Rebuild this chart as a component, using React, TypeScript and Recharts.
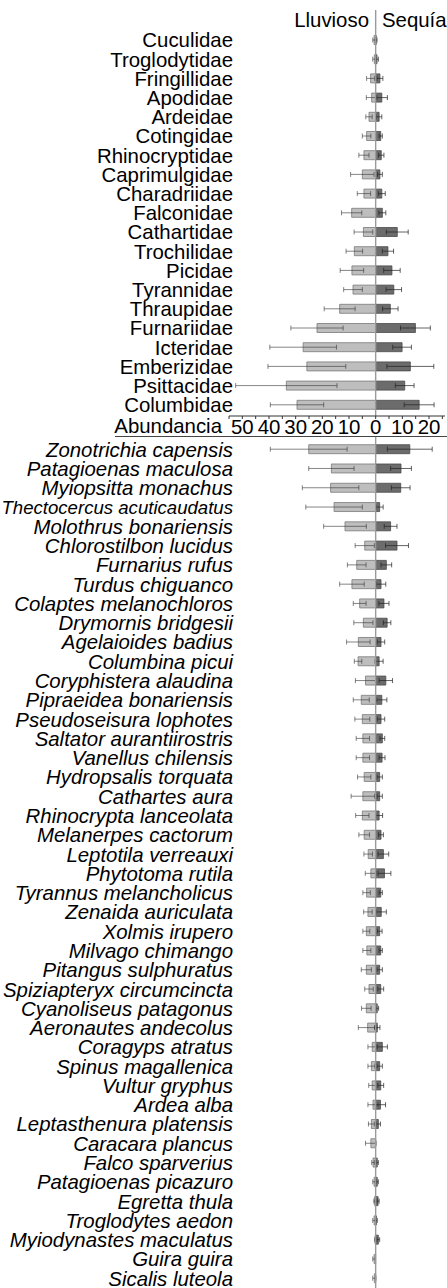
import React from 'react';
import { BarChart, Bar, XAxis, YAxis, ErrorBar, ReferenceLine } from 'recharts';

const families = [
  'Cuculidae', 'Troglodytidae', 'Fringillidae', 'Apodidae', 'Ardeidae', 'Cotingidae',
  'Rhinocryptidae', 'Caprimulgidae', 'Charadriidae', 'Falconidae', 'Cathartidae',
  'Trochilidae', 'Picidae', 'Tyrannidae', 'Thraupidae', 'Furnariidae', 'Icteridae',
  'Emberizidae', 'Psittacidae', 'Columbidae',
];
const famLluvioso = [0.6, 0.5, 1.9, 1.5, 2.5, 3.4, 4.4, 5.0, 4.4, 9.0, 4.6, 8.0, 8.9, 8.5, 13.5, 22.0, 27.2, 25.8, 33.5, 29.5];
const famLluviosoErr = [0.5, 0.6, 1.5, 2.0, 1.2, 1.6, 1.9, 4.4, 2.5, 3.8, 3.5, 3.1, 4.4, 3.5, 5.8, 9.8, 12.5, 14.6, 19.0, 10.0];
const famSequia = [0.2, 0.5, 1.6, 2.3, 1.3, 1.9, 2.1, 1.6, 2.3, 2.5, 8.1, 4.6, 6.1, 6.8, 5.5, 14.9, 9.9, 13.0, 10.9, 16.3];
const famSequiaErr = [0.3, 0.5, 1.1, 2.1, 1.0, 0.6, 1.0, 0.9, 1.3, 1.3, 4.1, 2.1, 3.1, 2.9, 2.9, 5.6, 3.5, 8.8, 3.5, 5.6];

const species = [
  'Zonotrichia capensis', 'Patagioenas maculosa', 'Myiopsitta monachus', 'Thectocercus acuticaudatus',
  'Molothrus bonariensis', 'Chlorostilbon lucidus', 'Furnarius rufus', 'Turdus chiguanco',
  'Colaptes melanochloros', 'Drymornis bridgesii', 'Agelaioides badius', 'Columbina picui',
  'Coryphistera alaudina', 'Pipraeidea bonariensis', 'Pseudoseisura lophotes', 'Saltator aurantiirostris',
  'Vanellus chilensis', 'Hydropsalis torquata', 'Cathartes aura', 'Rhinocrypta lanceolata',
  'Melanerpes cactorum', 'Leptotila verreauxi', 'Phytotoma rutila', 'Tyrannus melancholicus',
  'Zenaida auriculata', 'Xolmis irupero', 'Milvago chimango', 'Pitangus sulphuratus',
  'Spiziapteryx circumcincta', 'Cyanoliseus patagonus', 'Aeronautes andecolus', 'Coragyps atratus',
  'Spinus magallenica', 'Vultur gryphus', 'Ardea alba', 'Leptasthenura platensis',
  'Caracara plancus', 'Falco sparverius', 'Patagioenas picazuro', 'Egretta thula',
  'Troglodytes aedon', 'Myiodynastes maculatus', 'Guira guira', 'Sicalis luteola',
];
const spLluvioso = [25.1, 16.6, 16.9, 15.6, 11.5, 4.1, 7.1, 8.9, 6.0, 4.6, 6.5, 6.6, 3.8, 5.4, 5.0, 4.8, 4.8, 4.3, 4.8, 5.0, 4.3, 2.8, 1.8, 3.4, 2.9, 3.5, 3.3, 3.5, 2.5, 3.5, 3.0, 1.3, 1.6, 1.3, 1.0, 1.6, 1.8, 1.0, 0.6, 0.4, 0.6, 0.2, 0.6, 0.5];
const spLluviosoErr = [14.4, 8.5, 10.6, 10.6, 8.0, 3.6, 3.5, 4.6, 2.4, 3.6, 4.4, 1.4, 3.8, 3.0, 2.8, 2.5, 2.5, 2.5, 4.4, 2.5, 2.0, 1.6, 2.1, 1.4, 1.6, 1.3, 1.5, 1.9, 1.6, 1.8, 3.5, 1.6, 1.3, 1.3, 1.9, 1.1, 2.0, 0.5, 0.5, 0.3, 0.5, 0.2, 0.5, 0.6];
const spSequia = [12.8, 9.5, 9.4, 1.5, 5.6, 8.0, 4.0, 2.0, 3.1, 4.3, 2.0, 1.3, 3.8, 2.3, 2.0, 2.5, 2.4, 1.5, 1.5, 1.3, 2.0, 2.9, 3.3, 1.9, 2.1, 1.5, 1.9, 1.5, 1.9, 0.6, 0.6, 2.5, 1.5, 1.9, 1.8, 1.0, 0, 0.6, 0.6, 0.9, 0.3, 1.0, 0, 0];
const spSequiaErr = [8.4, 3.9, 3.5, 1.3, 2.4, 4.3, 2.0, 1.8, 1.9, 1.4, 1.4, 1.5, 2.5, 1.9, 1.4, 0.9, 1.1, 1.0, 1.0, 1.3, 0.9, 2.0, 2.4, 0.6, 1.9, 0.9, 0.6, 1.0, 1.1, 0.5, 1.0, 1.9, 1.0, 1.1, 1.9, 0.8, 0, 0.4, 0.4, 0.4, 0.3, 0.5, 0, 0];

const xDomain = [-55, 26];
const xTicks = [-55, -50, -45, -40, -35, -30, -25, -20, -15, -10, -5, 0, 5, 10, 15, 20, 25];
const seasonLabels = ['Lluvioso', 'Sequía'];
const axisTitle = 'Abundancia';

const FONT = '"Liberation Sans", Arial, Helvetica, sans-serif';
const L_FILL = '#bebebe';
const L_STROKE = '#7a7a7a';
const S_FILL = '#6c6c6c';
const S_STROKE = '#4a4a4a';

const buildRows = (names: string[], l: number[], le: number[], s: number[], se: number[]) =>
  names.map((name, i) => ({ name, lluvioso: -l[i], lluviosoErr: le[i], sequia: s[i], sequiaErr: se[i] }));

const famRows = buildRows(families, famLluvioso, famLluviosoErr, famSequia, famSequiaErr);
const spRows = buildRows(species, spLluvioso, spLluviosoErr, spSequia, spSequiaErr);

const YTick = (props: any) => {
  const { x, y, payload, italic } = props;
  const label = String(payload.value);
  const fs = label.length > 25 ? 18.6 : 20.4;
  return (
    <text x={x + 4} y={y} dy="0.36em" textAnchor="end" fontSize={fs} fontFamily={FONT}
      fontStyle={italic ? 'italic' : 'normal'} fill="#000">
      {label}
    </text>
  );
};

const XTick = (props: any) => {
  const { x, y, payload } = props;
  if (payload.value % 10 !== 0) return <g />;
  return (
    <text x={x} y={y} dy="0.71em" textAnchor="middle" fontSize={20.4} fontFamily={FONT} fill="#000">
      {Math.abs(payload.value)}
    </text>
  );
};

const Series = () => null;

function Panel({ rows, italic, height, top, showAxis, padTop, padBottom, marginTop, marginBottom }: any) {
  return (
    <div style={{ position: 'absolute', left: 0, top }}>
      <BarChart width={447} height={height} data={rows} layout="vertical"
        margin={{ top: marginTop, right: 2, bottom: marginBottom, left: 0 }}>
        <XAxis type="number" domain={xDomain} ticks={xTicks} allowDataOverflow
          hide={!showAxis} height={20} tickSize={3} tickMargin={1}
          stroke="#333" tick={<XTick />} interval={0}
          label={showAxis ? { value: axisTitle, position: 'left', offset: 7, fontSize: 20.4, fill: '#000', fontFamily: FONT } : undefined}
        />
        <YAxis yAxisId="a" type="category" dataKey="name" width={229} axisLine={false} tickLine={false}
          tickSize={0} tickMargin={0} interval={0} padding={{ top: padTop, bottom: padBottom }}
          tick={(p: any) => <YTick {...p} italic={italic} />} />
        <YAxis yAxisId="b" type="category" dataKey="name" width={229} hide
          padding={{ top: padTop, bottom: padBottom }} />
        <Bar yAxisId="a" dataKey="lluvioso" fill={L_FILL} stroke={L_STROKE} strokeWidth={0.8}
          barSize={9} isAnimationActive={false}>
          <ErrorBar dataKey="lluviosoErr" direction="x" width={2.5} stroke="#333" strokeOpacity={0.6} strokeWidth={1} />
        </Bar>
        <Bar yAxisId="b" dataKey="sequia" fill={S_FILL} stroke={S_STROKE} strokeWidth={0.8}
          barSize={9} isAnimationActive={false}>
          <ErrorBar dataKey="sequiaErr" direction="x" width={2.5} stroke="#222" strokeOpacity={0.7} strokeWidth={1} />
        </Bar>
        <ReferenceLine yAxisId="a" x={0} stroke="#9a9a9a" strokeWidth={1.4} />
      </BarChart>
    </div>
  );
}

export default function App() {
  return (
    <div style={{ position: 'absolute', left: 0, top: 0, width: 447, height: 1288, background: '#fff', fontFamily: FONT }}>
      <Panel rows={famRows} italic={false} height={446} top={0} showAxis padTop={20.5} padBottom={1.5}
        marginTop={10} marginBottom={10} />
      <Panel rows={spRows} italic height={851} top={437} showAxis={false} padTop={2.7} padBottom={0}
        marginTop={0} marginBottom={0} />
      <div style={{ position: 'absolute', left: 115, top: 436, width: 332, height: 0, borderTop: '1px solid #444' }} />
      <svg width={447} height={40} style={{ position: 'absolute', left: 0, top: 0 }}>
        <text x={369} y={27} textAnchor="end" fontSize={20.4} fontFamily={FONT} fill="#000">{seasonLabels[0]}</text>
        <text x={382} y={27} textAnchor="start" fontSize={20.4} fontFamily={FONT} fill="#000">{seasonLabels[1]}</text>
      </svg>
    </div>
  );
}
